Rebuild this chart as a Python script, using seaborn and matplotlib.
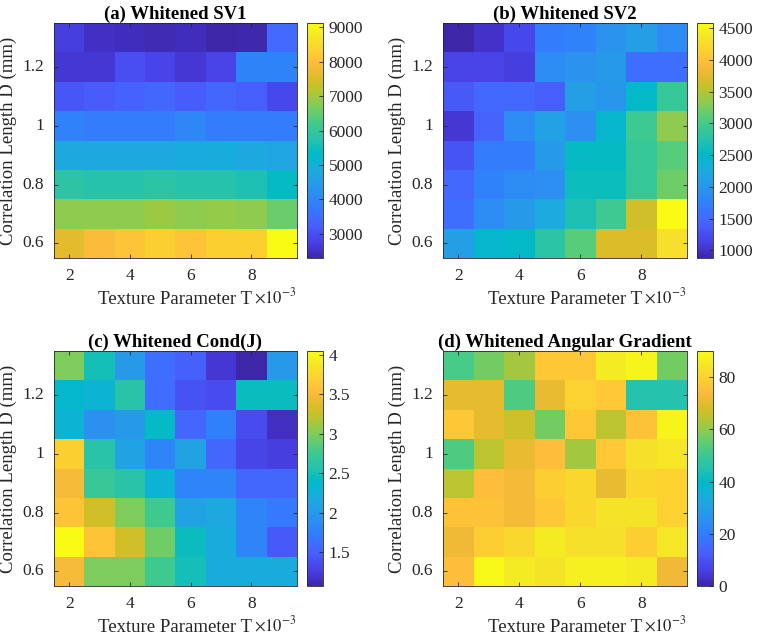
import numpy as np
import pandas as pd
import matplotlib
matplotlib.use("Agg")
import matplotlib.pyplot as plt
import seaborn as sns
from matplotlib.colors import LinearSegmentedColormap

# axes values
texture = [2, 3, 4, 5, 6, 7, 8, 9]                       # x 10^-3
corr_len = [1.3, 1.2, 1.1, 1.0, 0.9, 0.8, 0.7, 0.6]      # rows, top to bottom

# (a) whitened SV1
sv1 = [[2700, 2500, 2450, 2400, 2450, 2300, 2350, 3450],
       [2600, 2600, 3000, 2850, 2600, 2800, 3950, 3950],
       [3100, 3200, 3300, 3400, 3200, 3400, 3250, 2900],
       [3900, 3800, 3800, 3800, 4000, 3800, 3800, 3800],
       [4800, 4800, 4800, 4800, 4850, 4900, 4800, 4700],
       [5850, 5750, 5750, 5850, 5750, 5750, 5650, 5350],
       [6850, 6850, 6850, 6950, 6850, 6900, 6850, 6550],
       [7600, 7900, 8100, 8300, 8100, 8300, 8300, 9120]]

# (b) whitened SV2
sv2 = [[880, 1000, 1200, 1700, 1750, 1950, 2100, 1850],
       [1150, 1150, 1100, 1850, 1950, 2050, 1550, 1550],
       [1350, 1500, 1500, 1400, 2100, 2000, 2500, 2900],
       [1050, 1450, 1850, 2150, 1900, 2450, 2950, 3350],
       [1300, 1700, 1700, 2050, 2550, 2550, 2900, 3100],
       [1500, 1750, 1850, 1900, 2600, 2600, 2900, 3200],
       [1550, 1850, 2050, 2250, 2700, 2950, 3650, 4580],
       [2100, 2450, 2500, 2800, 3100, 3700, 3700, 4300]]

# (c) whitened Cond(J)
condj = [[3.0, 2.5, 2.0, 1.6, 1.5, 1.2, 1.07, 2.0],
         [2.35, 2.3, 2.6, 1.6, 1.4, 1.35, 2.45, 2.45],
         [2.3, 1.9, 2.0, 2.4, 1.55, 1.75, 1.35, 1.15],
         [3.7, 2.6, 2.1, 1.8, 2.1, 1.55, 1.3, 1.25],
         [3.5, 2.7, 2.6, 2.3, 1.8, 1.8, 1.55, 1.55],
         [3.6, 3.3, 3.0, 2.75, 2.1, 2.15, 1.8, 1.7],
         [4.05, 3.6, 3.3, 2.95, 2.45, 2.2, 1.8, 1.45],
         [3.5, 3.0, 3.0, 2.75, 2.5, 2.2, 2.2, 2.2]]

# (d) whitened angular gradient
angular = [[52, 57, 62, 77, 77, 86, 88, 57],
           [70, 70, 53, 71, 80, 78, 45, 45],
           [77, 70, 67, 57, 77, 65, 76, 88],
           [53, 65, 71, 75, 62, 78, 83, 85],
           [65, 75, 73, 79, 81, 71, 81, 80],
           [76, 76, 73, 77, 81, 84, 84, 80],
           [72, 79, 81, 86, 83, 83, 79, 85],
           [75, 89, 86, 84, 87, 87, 86, 72]]

# parula colormap (subsampled)
parula = LinearSegmentedColormap.from_list("parula", [
    (0.2422, 0.1504, 0.6603), (0.2647, 0.1978, 0.7952), (0.2783, 0.2559, 0.8991),
    (0.2813, 0.3006, 0.9414), (0.2760, 0.3667, 0.9829), (0.2602, 0.4123, 0.9952),
    (0.2206, 0.4603, 0.9973), (0.1834, 0.5074, 0.9798), (0.1764, 0.5499, 0.9520),
    (0.1540, 0.5902, 0.9218), (0.1380, 0.6276, 0.8973), (0.1113, 0.6635, 0.8763),
    (0.0689, 0.6948, 0.8394), (0.0036, 0.7203, 0.7917), (0.0433, 0.7411, 0.7394),
    (0.1408, 0.7584, 0.6842), (0.1938, 0.7758, 0.6251), (0.2470, 0.7918, 0.5567),
    (0.3406, 0.8008, 0.4789), (0.4456, 0.8024, 0.3909), (0.5616, 0.7942, 0.3045),
    (0.6720, 0.7793, 0.2227), (0.7738, 0.7598, 0.1646), (0.8634, 0.7406, 0.1596),
    (0.9393, 0.7288, 0.2100), (0.9956, 0.7434, 0.2371), (0.9952, 0.7893, 0.2028),
    (0.9786, 0.8386, 0.1766), (0.9610, 0.8890, 0.1537), (0.9628, 0.9373, 0.1265),
    (0.9769, 0.9839, 0.0805)])

plt.rcParams["font.family"] = ["Liberation Serif", "DejaVu Serif"]
plt.rcParams["mathtext.fontset"] = "stix"
txt = "#262626"

fig = plt.figure(figsize=(7.59, 6.40), dpi=100)
W, H = 759, 640

def px_axes(x0, y0, x1, y1):
    return fig.add_axes([x0 / W, 1 - y1 / H, (x1 - x0) / W, (y1 - y0) / H])

panels = [
    (sv1, "(a) Whitened SV1", (54, 23, 297, 258), (307, 323), None, None,
     [3000, 4000, 5000, 6000, 7000, 8000, 9000], None),
    (sv2, "(b) Whitened SV2", (443, 23, 687, 258), (697, 713), None, None,
     [1000, 1500, 2000, 2500, 3000, 3500, 4000, 4500], None),
    (condj, "(c) Whitened Cond(J)", (54, 351, 297, 586), (307, 323), None, None,
     [1.5, 2, 2.5, 3, 3.5, 4], ["1.5", "2", "2.5", "3", "3.5", "4"]),
    (angular, "(d) Whitened Angular Gradient", (443, 351, 687, 586), (697, 713), 0, 90,
     [0, 20, 40, 60, 80], None),
]

for data, title, (x0, y0, x1, y1), (c0, c1), vmin, vmax, cticks, clabels in panels:
    ax = px_axes(x0, y0, x1, y1)
    cax = px_axes(c0, y0, c1, y1)
    df = pd.DataFrame(data, index=corr_len, columns=texture)
    sns.heatmap(df, ax=ax, cbar_ax=cax, cmap=parula, vmin=vmin, vmax=vmax)

    ax.set_xticks([0.5, 2.5, 4.5, 6.5])
    ax.set_xticklabels(["2", "4", "6", "8"], fontsize=12.5, color=txt)
    ax.set_yticks([1.5, 3.5, 5.5, 7.5])
    ax.set_yticklabels(["1.2", "1", "0.8", "0.6"], fontsize=12.5, color=txt, rotation=0)
    ax.tick_params(direction="in", length=3, width=0.6, top=True, right=True,
                   color=txt, pad=7)
    for s in ax.spines.values():
        s.set_visible(True)
        s.set_linewidth(0.6)
        s.set_color(txt)
    ax.set_title(title, fontsize=13.5, fontweight="bold", color="black", pad=3)
    ax.set_xlabel("Texture Parameter T", fontsize=13.5, color=txt, labelpad=5)
    ax.set_ylabel("Correlation Length D (mm)", fontsize=13.5, color=txt, labelpad=4)
    ax.text(1.0, -0.125, r"$\times10^{-3}$", transform=ax.transAxes, ha="right",
            va="top", fontsize=12, color=txt)

    cb = ax.collections[0].colorbar
    cb.set_ticks(cticks)
    if clabels:
        cb.set_ticklabels(clabels)
    cb.outline.set_visible(True)
    cb.outline.set_linewidth(0.6)
    cb.outline.set_edgecolor(txt)
    cax.tick_params(direction="in", length=3, width=0.6, labelsize=12.5,
                    colors=txt, left=False, right=True, pad=4)

fig.savefig("out.png", dpi=100)
